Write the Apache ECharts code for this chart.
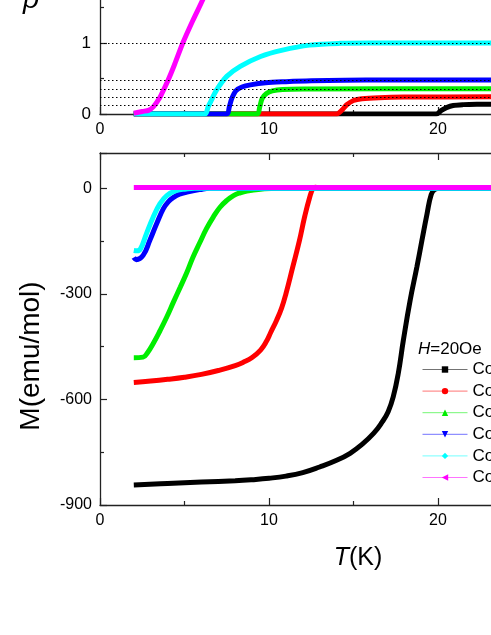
<!DOCTYPE html>
<html>
<head>
<meta charset="utf-8">
<script src="https://cdn.jsdelivr.net/npm/echarts@6/dist/echarts.min.js"></script>
<style>
html,body{margin:0;padding:0;background:#fff;}
#chart{width:491px;height:635px;}
</style>
</head>
<body>
<div id="chart"></div>
<script>
// ---- data ----
const sampleNames = ['Co0.00', 'Co0.01', 'Co0.02', 'Co0.03', 'Co0.04', 'Co0.05'];
const xTicks = [0, 10, 20];
const rhoTicks = [0, 1];
const mTicks = [-900, -600, -300, 0];
const refLevels = [1.0, 0.48, 0.355, 0.235, 0.122];

// top panel: normalised resistivity vs T
const rhoBlack = [[2,0],[19.9,0],[20.2,0.05],[20.5,0.09],[20.9,0.12],[21.5,0.132],[22.3,0.137],[23.5,0.138]];
const rhoRed = [[2,0],[14.0,0],[14.3,0.05],[14.6,0.13],[15,0.19],[15.5,0.215],[16.5,0.23],[18,0.238],[23.5,0.242]];
const rhoGreen = [[2,0],[9.3,0],[9.45,0.1],[9.6,0.22],[9.85,0.29],[10.2,0.325],[10.8,0.345],[12,0.352],[23.5,0.355]];
const rhoBlue = [[2,0],[7.5,0],[7.65,0.1],[7.8,0.22],[8.05,0.33],[8.4,0.38],[8.9,0.41],[9.8,0.44],[11,0.455],[12.5,0.468],[14.5,0.476],[17,0.48],[23.5,0.48]];
const rhoCyan = [[2,0],[6.2,0],[6.4,0.1],[6.6,0.2],[6.9,0.34],[7.5,0.53],[8.3,0.67],[9.5,0.81],[10.8,0.9],[12.4,0.97],[14.2,0.995],[16,1.0],[23.5,1.0]];
const rhoMagenta = [[2,0.01],[2.5,0.035],[2.9,0.055],[3.15,0.1],[3.4,0.18],[3.6,0.26],[4,0.46],[4.4,0.69],[4.9,1.0],[5.5,1.32],[6.1,1.62],[6.6,1.9],[7,2.1]];

// bottom panel: magnetisation vs T
const mBlack = [[2,-843],[4,-839],[6,-835],[8,-831],[9,-828],[10,-824],[11,-818],[12,-808],[13,-792],[14,-773],[14.8,-753],[15.5,-728],[16.2,-696],[16.7,-664],[17.05,-635],[17.35,-593],[17.65,-526],[17.95,-432],[18.35,-319],[18.75,-224],[19.05,-148],[19.35,-73],[19.6,-18],[19.8,-4],[20.1,0],[23.5,0]];
const mRed = [[2,-552],[3,-548],[4,-543],[5,-537],[6,-529],[7,-518],[8,-504],[8.5,-494],[9,-481],[9.5,-460],[9.85,-435],[10.1,-410],[10.45,-375],[10.75,-340],[11,-300],[11.4,-225],[11.8,-149],[12.1,-83],[12.4,-27],[12.6,0],[12.75,3],[13,0],[23.5,0]];
const mGreen = [[2,-482],[2.55,-480],[2.8,-468],[3.15,-441],[3.55,-405],[3.95,-366],[4.35,-323],[4.75,-281],[5.15,-238],[5.5,-196],[5.9,-155],[6.3,-115],[6.7,-82],[7.1,-54],[7.5,-35],[7.9,-21],[8.3,-13],[8.7,-8],[9.5,-3],[10.5,0],[23.5,0]];
const mBlue = [[2,-197],[2.15,-203],[2.55,-191],[2.95,-148],[3.35,-101],[3.75,-58],[4.05,-38],[4.35,-26],[4.7,-17],[5.15,-11],[5.9,-4],[6.5,0],[23.5,0]];
const mCyan = [[2,-177],[2.2,-178],[2.4,-172],[2.75,-129],[3.15,-82],[3.55,-44],[3.95,-21],[4.5,-7],[5.1,-2],[5.6,0],[23.5,0]];
const mMagenta = [[2,2],[23.5,2]];

const rhoData = [rhoBlack, rhoRed, rhoGreen, rhoBlue, rhoCyan, rhoMagenta];
const mData = [mBlack, mRed, mGreen, mBlue, mCyan, mMagenta];

// ---- styles ----
const colors = ['#000000', '#ff0000', '#00ee00', '#0000ff', '#00ffff', '#ff00ff'];
const symbols = ['rect', 'circle', 'triangle', 'triangle', 'diamond', 'triangle'];
const symbolRotates = [0, 0, 0, 180, 0, 90];
const FONT = 'Liberation Sans, Arial, sans-serif';
const AX = '#222';

const chart = echarts.init(document.getElementById('chart'), null, {renderer: 'canvas'});

function xAxisFor(grid, opts) {
  return Object.assign({
    type: 'value', gridIndex: grid, min: 0, max: 30, interval: 10,
    axisLine: {show: true, onZero: false, lineStyle: {color: AX, width: 1.3}},
    axisTick: {show: true, inside: true, length: 7, lineStyle: {color: AX, width: 1.2}},
    minorTick: {show: true, splitNumber: 2, length: 4, lineStyle: {color: AX, width: 1.2}},
    splitLine: {show: false},
    axisLabel: {show: true, margin: 8, fontSize: 16, color: '#000', fontFamily: FONT,
      formatter: v => xTicks.indexOf(v) >= 0 ? String(v) : ''}
  }, opts || {});
}

const series = [];
rhoData.forEach((d, i) => {
  const s = {
    name: 'rho ' + sampleNames[i], type: 'line', xAxisIndex: 0, yAxisIndex: 0,
    data: d, showSymbol: false, symbol: 'none', smooth: 0.3,
    lineStyle: {color: colors[i], width: 5}, itemStyle: {color: colors[i]},
    silent: true, z: 3 + i * 0.01
  };
  if (i === 0) {
    s.markLine = {
      silent: true, symbol: 'none', label: {show: false},
      lineStyle: {color: '#000', width: 1, type: [1.5, 2.5]},
      data: refLevels.map(v => ({yAxis: v})), z: 10
    };
  }
  series.push(s);
});
mData.forEach((d, i) => {
  series.push({
    name: sampleNames[i], type: 'line', xAxisIndex: 1, yAxisIndex: 1,
    data: d, showSymbol: false, symbol: symbols[i], symbolRotate: symbolRotates[i],
    smooth: 0.45,
    lineStyle: {color: colors[i], width: 5}, itemStyle: {color: colors[i]},
    silent: true
  });
});

const option = {
  animation: false,
  backgroundColor: '#fff',
  grid: [
    {left: 100, top: -28, width: 507, height: 142, outerBoundsMode: 'none', containLabel: false},
    {left: 100, top: 153, width: 507, height: 352, outerBoundsMode: 'none', containLabel: false}
  ],
  xAxis: [
    xAxisFor(0),
    xAxisFor(1),
    xAxisFor(1, {position: 'top', axisLabel: {show: false}})
  ],
  yAxis: [
    {
      type: 'value', gridIndex: 0, min: 0, max: 2, interval: 1,
      axisLine: {show: true, onZero: false, lineStyle: {color: AX, width: 1.3}},
      axisTick: {show: true, inside: true, length: 7, lineStyle: {color: AX, width: 1.2}},
      minorTick: {show: true, splitNumber: 2, length: 4, lineStyle: {color: AX, width: 1.2}},
      splitLine: {show: false},
      axisLabel: {margin: 9, fontSize: 17, color: '#000', fontFamily: FONT,
        formatter: v => rhoTicks.indexOf(v) >= 0 ? String(v) : ''}
    },
    {
      type: 'value', gridIndex: 1, min: -900, max: 100, interval: 300,
      axisLine: {show: true, onZero: false, lineStyle: {color: AX, width: 1.3}},
      axisTick: {show: true, inside: true, length: 7, lineStyle: {color: AX, width: 1.2}},
      minorTick: {show: true, splitNumber: 2, length: 4, lineStyle: {color: AX, width: 1.2}},
      splitLine: {show: false},
      axisLabel: {margin: 8, fontSize: 16, color: '#000', fontFamily: FONT, showMaxLabel: false,
        formatter: v => mTicks.indexOf(v) >= 0 ? String(v) : ''}
    }
  ],
  legend: {
    data: sampleNames, orient: 'vertical', left: 417, top: 356,
    itemWidth: 45, itemHeight: 8, itemGap: 4.6, selectedMode: false,
    textStyle: {fontSize: 17, color: '#000', fontFamily: FONT},
    lineStyle: {width: 1, opacity: 0.55}
  },
  graphic: [
    {type: 'text', x: 31, y: 0, silent: true,
      style: {text: 'ρ', fontSize: 28, fontStyle: 'italic', fontFamily: FONT, fill: '#000',
        align: 'center', verticalAlign: 'middle', textAlign: 'center', textVerticalAlign: 'middle'}},
    {type: 'text', x: 31, y: 356, rotation: Math.PI / 2, silent: true,
      style: {text: 'M(emu/mol)', fontSize: 28, fontFamily: FONT, fill: '#000',
        align: 'center', verticalAlign: 'middle', textAlign: 'center', textVerticalAlign: 'middle'}},
    {type: 'text', x: 358, y: 558, silent: true,
      style: {text: '{i|T}(K)', fontSize: 25, fontFamily: FONT, fill: '#000',
        align: 'center', verticalAlign: 'middle', textAlign: 'center', textVerticalAlign: 'middle',
        rich: {i: {fontStyle: 'italic', fontSize: 25, fontFamily: FONT}}}},
    {type: 'text', x: 418, y: 349, silent: true,
      style: {text: '{i|H}=20Oe', fontSize: 17, fontFamily: FONT, fill: '#000',
        align: 'left', verticalAlign: 'middle', textAlign: 'left', textVerticalAlign: 'middle',
        rich: {i: {fontStyle: 'italic', fontSize: 17, fontFamily: FONT}}}}
  ],
  series: series
};
chart.setOption(option);
</script>
</body>
</html>
